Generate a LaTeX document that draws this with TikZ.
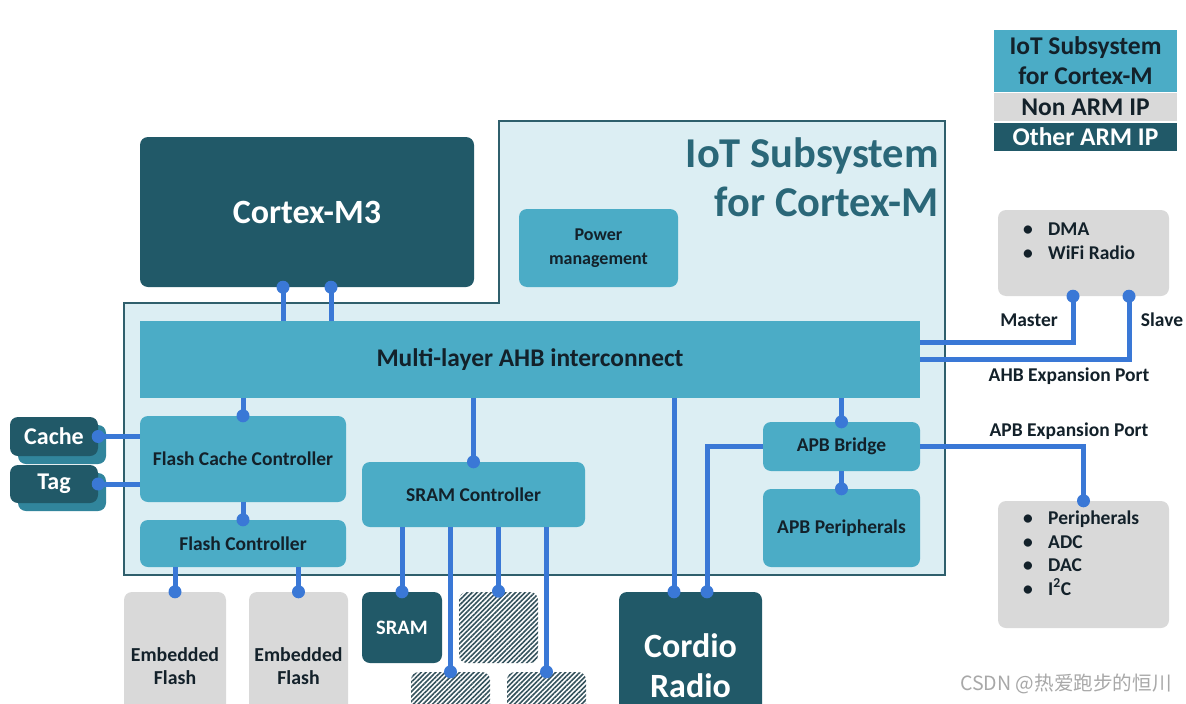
\documentclass[tikz,border=0pt]{standalone}
\usepackage{fontspec}
\setmainfont{Carlito}
\newfontfamily\cjkfont{Noto Sans CJK SC}
\usetikzlibrary{patterns.meta,shadows,calc}
\definecolor{darkc}{HTML}{215968}
\definecolor{cyanc}{HTML}{4BACC6}
\definecolor{lightc}{HTML}{DCEEF3}
\definecolor{grayc}{HTML}{D9D9D9}
\definecolor{borderc}{HTML}{2F5F6C}
\definecolor{busc}{HTML}{3A78D6}
\definecolor{shadowc}{HTML}{31859C}
\definecolor{titlec}{HTML}{2A6778}
\definecolor{inkc}{HTML}{13212A}
\definecolor{hatchc}{HTML}{34525C}
\definecolor{wmc}{HTML}{A8A8A8}
\begin{document}
\begin{tikzpicture}[x=1pt,y=-1pt,
  box/.style={rounded corners=8pt, inner sep=0pt, align=center, text=inkc,
    font=\bfseries\fontsize{19.5}{23}\selectfont},
  cyanbox/.style={box, fill=cyanc},
  darkbox/.style={box, fill=darkc, text=white},
  graybox/.style={box, fill=grayc},
  hatchbox/.style={box, pattern={Lines[angle=45,distance=3.4pt,line width=1.6pt]}, pattern color=hatchc},
  bus/.style={draw=busc, line width=5pt},
  lbl/.style={inner sep=0pt, text=inkc, font=\bfseries\fontsize{19.5}{23}\selectfont},
  listtxt/.style={inner sep=0pt, text=inkc, align=left, anchor=west, font=\bfseries\fontsize{19.5}{23.5}\selectfont}
]
\useasboundingbox (0,0) rectangle (1186,704);
\clip (0,0) rectangle (1186,704);
\fill[white] (0,0) rectangle (1186,704);

% subsystem outline
\draw[fill=lightc, draw=borderc, line width=2pt] (124,303) -- (499,303) -- (499,121) -- (945,121) -- (945,575) -- (124,575) -- cycle;
\node[anchor=east, align=right, inner sep=0pt, text=titlec, font=\bfseries\fontsize{42.5}{49}\selectfont] (title) at (939,177) {IoT Subsystem\\for Cortex-M};

% legend
\node[cyanbox, rounded corners=0pt, minimum width=183pt, minimum height=62pt, font=\bfseries\fontsize{25.5}{30}\selectfont] (lg1) at (1085.5,61) {IoT Subsystem\\for Cortex-M};
\node[graybox, rounded corners=0pt, minimum width=183pt, minimum height=28pt, font=\bfseries\fontsize{25.5}{27}\selectfont] (lg2) at (1085.5,107) {Non ARM IP};
\node[darkbox, rounded corners=0pt, minimum width=183pt, minimum height=28pt, font=\bfseries\fontsize{25.5}{27}\selectfont] (lg3) at (1085.5,137) {Other ARM IP};

% main blocks
\node[darkbox, minimum width=334pt, minimum height=150pt, font=\bfseries\fontsize{34}{38}\selectfont] (cortex) at (307,212) {Cortex-M3};
\node[cyanbox, minimum width=159pt, minimum height=78pt, font=\bfseries\fontsize{18}{24}\selectfont] (power) at (598.5,248) {Power\\management};
\node[cyanbox, rounded corners=0pt, minimum width=780pt, minimum height=77pt, font=\bfseries\fontsize{25.4}{28}\selectfont] (ahb) at (530,359.5) {Multi-layer AHB interconnect};
\node[cyanbox, minimum width=206pt, minimum height=86pt] (fcc) at (243,459) {Flash Cache Controller};
\node[cyanbox, minimum width=206pt, minimum height=47pt] (fc) at (243,543.5) {Flash Controller};
\node[cyanbox, minimum width=223pt, minimum height=65pt] (sramc) at (473.5,494.5) {SRAM Controller};
\node[cyanbox, minimum width=157pt, minimum height=49pt] (apbb) at (841.5,446.5) {APB Bridge};
\node[cyanbox, minimum width=157pt, minimum height=78pt] (apbp) at (841.5,528) {APB Peripherals};

% cache and tag
\node[darkbox, minimum width=88pt, minimum height=39pt, font=\bfseries\fontsize{24}{26}\selectfont,
  copy shadow={shadow xshift=8pt, shadow yshift=-8pt, fill=shadowc, draw=none}] (cache) at (54,436.5) {Cache};
\node[darkbox, minimum width=88pt, minimum height=38pt, font=\bfseries\fontsize{24}{26}\selectfont,
  copy shadow={shadow xshift=8pt, shadow yshift=-8pt, fill=shadowc, draw=none}] (tag) at (54,484) {Tag};

% outside blocks
\node[graybox, minimum width=102pt, minimum height=148pt, font=\bfseries\fontsize{19.8}{23}\selectfont] (ef1) at (175,666) {Embedded\\Flash};
\node[graybox, minimum width=99pt, minimum height=148pt, font=\bfseries\fontsize{19.8}{23}\selectfont] (ef2) at (298.5,666) {Embedded\\Flash};
\node[darkbox, minimum width=80pt, minimum height=71pt, font=\bfseries\fontsize{20.5}{24}\selectfont] (sram) at (402,627.5) {SRAM};
\node[hatchbox, minimum width=79pt, minimum height=71pt] (h1) at (498.5,627.5) {};
\node[hatchbox, minimum width=79pt, minimum height=72pt] (h2) at (450.5,708) {};
\node[hatchbox, minimum width=79pt, minimum height=72pt] (h3) at (546.5,708) {};
\node[darkbox, minimum width=143pt, minimum height=148pt, font=\bfseries\fontsize{34}{40}\selectfont] (cordio) at (690.5,666) {Cordio\\Radio};
\node[graybox, minimum width=171pt, minimum height=86pt] (dma) at (1083.5,253) {};
\node[graybox, minimum width=171pt, minimum height=127pt] (periph) at (1083.5,564.5) {};
\node[listtxt] (dmatxt) at (1023,241) {\makebox[25pt][l]{\textbullet}DMA\\\makebox[25pt][l]{\textbullet}WiFi Radio};
\node[listtxt] (pertxt) at (1023,553) {\makebox[25pt][l]{\textbullet}Peripherals\\\makebox[25pt][l]{\textbullet}ADC\\\makebox[25pt][l]{\textbullet}DAC\\\makebox[25pt][l]{\textbullet}I\textsuperscript{2}C};

% labels
\node[lbl] (master) at (1029,320) {Master};
\node[lbl] (slave) at (1162,320) {Slave};
\node[lbl] (ahbport) at (1069,376) {AHB Expansion Port};
\node[lbl] (apbport) at (1069,431) {APB Expansion Port};

% buses
\draw[bus] ([xshift=-24pt]cortex.south) -- ([xshift=-24pt]cortex.south |- ahb.north);
\draw[bus] ([xshift=24pt]cortex.south) -- ([xshift=24pt]cortex.south |- ahb.north);
\draw[bus] (fcc.north |- ahb.south) -- (fcc.north);
\draw[bus] (fcc.south) -- (fc.north);
\draw[bus] (ef1.north |- fc.south) -- (ef1.north);
\draw[bus] (ef2.north |- fc.south) -- (ef2.north);
\draw[bus] (cache.east) -- (cache.east -| fcc.west);
\draw[bus] (tag.east) -- (tag.east -| fcc.west);
\draw[bus] (sramc.north |- ahb.south) -- (sramc.north);
\draw[bus] (sram.north |- sramc.south) -- (sram.north);
\draw[bus] (h1.north |- sramc.south) -- (h1.north);
\draw[bus] (h2.north |- sramc.south) -- (h2.north);
\draw[bus] (h3.north |- sramc.south) -- (h3.north);
\draw[bus] ([xshift=-16.5pt]cordio.north |- ahb.south) -- ([xshift=-16.5pt]cordio.north);
\draw[bus] (apbb.west) -| ([xshift=16.5pt]cordio.north);
\draw[bus] (apbb.north |- ahb.south) -- (apbb.north);
\draw[bus] (apbb.south) -- (apbp.north);
\draw[bus] (apbb.east) -| (periph.north);
\draw[bus] ([yshift=17.5pt]ahb.east) -| ([xshift=-10.5pt]dma.south);
\draw[bus] (ahb.east) -| ([xshift=45.5pt]dma.south);

% dots
\foreach \p in {([xshift=-24pt]cortex.south), ([xshift=24pt]cortex.south), (fcc.north), (fc.north),
  (ef1.north), (ef2.north), (cache.east), (tag.east), (sramc.north), (sram.north), (h1.north),
  (h2.north), (h3.north), ([xshift=-16.5pt]cordio.north), ([xshift=16.5pt]cordio.north),
  (apbb.north), (apbp.north), (periph.north), ([xshift=-10.5pt]dma.south), ([xshift=45.5pt]dma.south)}
  \fill[busc] \p circle (6.5pt);

% watermark
\node[inner sep=0pt, text=wmc, font=\cjkfont\fontsize{19.6}{22}\selectfont] (wm) at (1066,684) {CSDN @热爱跑步的恒川};
\end{tikzpicture}
\end{document}
